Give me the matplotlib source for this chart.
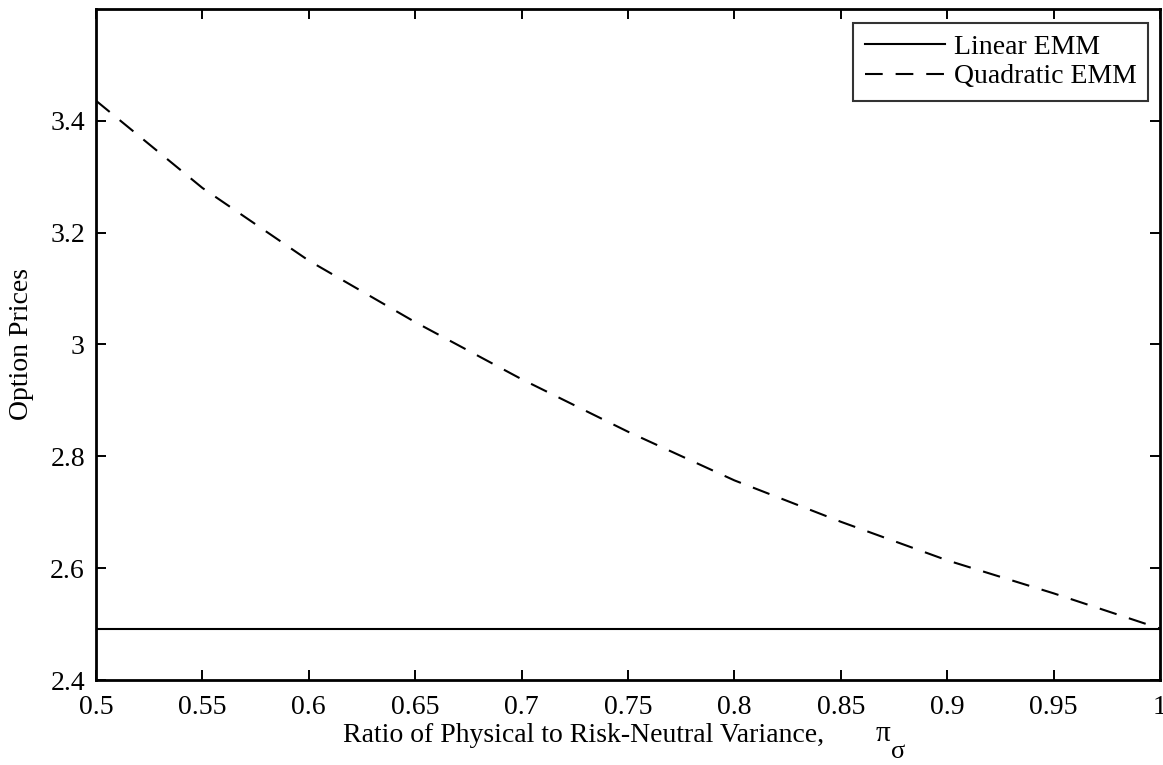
import numpy as np
import matplotlib
matplotlib.use("Agg")
import matplotlib.pyplot as plt
from matplotlib.ticker import FuncFormatter

plt.rcParams['font.family'] = ['Liberation Serif', 'DejaVu Serif']

# ratio of physical to risk-neutral variance
pi_sigma = [0.5, 0.55, 0.6, 0.65, 0.7, 0.75, 0.8, 0.85, 0.9, 0.95, 1.0]
# option prices
linear_emm = [2.492] * len(pi_sigma)
quadratic_emm = [3.436, 3.28, 3.150, 3.040, 2.938, 2.844, 2.757, 2.683, 2.614, 2.555, 2.492]

xticks = [0.5, 0.55, 0.6, 0.65, 0.7, 0.75, 0.8, 0.85, 0.9, 0.95, 1.0]
yticks = [2.4, 2.6, 2.8, 3.0, 3.2, 3.4]

W, H = 1163, 765
fig = plt.figure(figsize=(W / 100, H / 100), dpi=100)
ax = fig.add_axes([96 / W, 1 - 680 / H, (1160 - 96) / W, (680 - 9) / H])

ax.plot(pi_sigma, linear_emm, color='black', lw=1.5, label='Linear EMM')
ax.plot(pi_sigma, quadratic_emm, color='black', lw=1.5, ls=(0, (8.5, 6.2)),
        label='Quadratic EMM')

ax.set_xlim(0.5, 1.0)
ax.set_ylim(2.4, 3.6)
ax.set_xticks(xticks)
ax.set_yticks(yticks)
fmt = FuncFormatter(lambda v, p: '%g' % v)
ax.xaxis.set_major_formatter(fmt)
ax.yaxis.set_major_formatter(fmt)

ax.tick_params(direction='in', length=7.5, width=1.4, labelsize=20,
               top=True, right=True)
ax.tick_params(axis='x', pad=11)
ax.tick_params(axis='y', pad=8)
for s in ax.spines.values():
    s.set_linewidth(2)

ax.set_ylabel('Option Prices', fontsize=20)
ax.yaxis.set_label_coords((22 - 96) / 1064, 0.5)
ax.yaxis.label.set_va('center')

ax.set_xlabel('Ratio of Physical to Risk-Neutral Variance,', fontsize=20)
ax.xaxis.set_label_coords((583.5 - 96) / 1064, (680 - 736) / 671)
ax.xaxis.label.set_va('center')
fig.text(883 / W, 1 - 734 / H, '\u03c0', fontsize=21, ha='center', va='center')
fig.text(898 / W, 1 - 752 / H, '\u03c3', fontsize=19, ha='center', va='center')

leg = ax.legend(loc='upper right', bbox_to_anchor=(1148 / W, 1 - 22.7 / H),
                bbox_transform=fig.transFigure, fontsize=20, frameon=True,
                fancybox=False, borderaxespad=0, handlelength=2.9,
                handletextpad=0.3, borderpad=0.42, labelspacing=0.15)
leg.get_frame().set_edgecolor('black')
leg.get_frame().set_linewidth(1.5)

fig.savefig('out.png', dpi=100)
